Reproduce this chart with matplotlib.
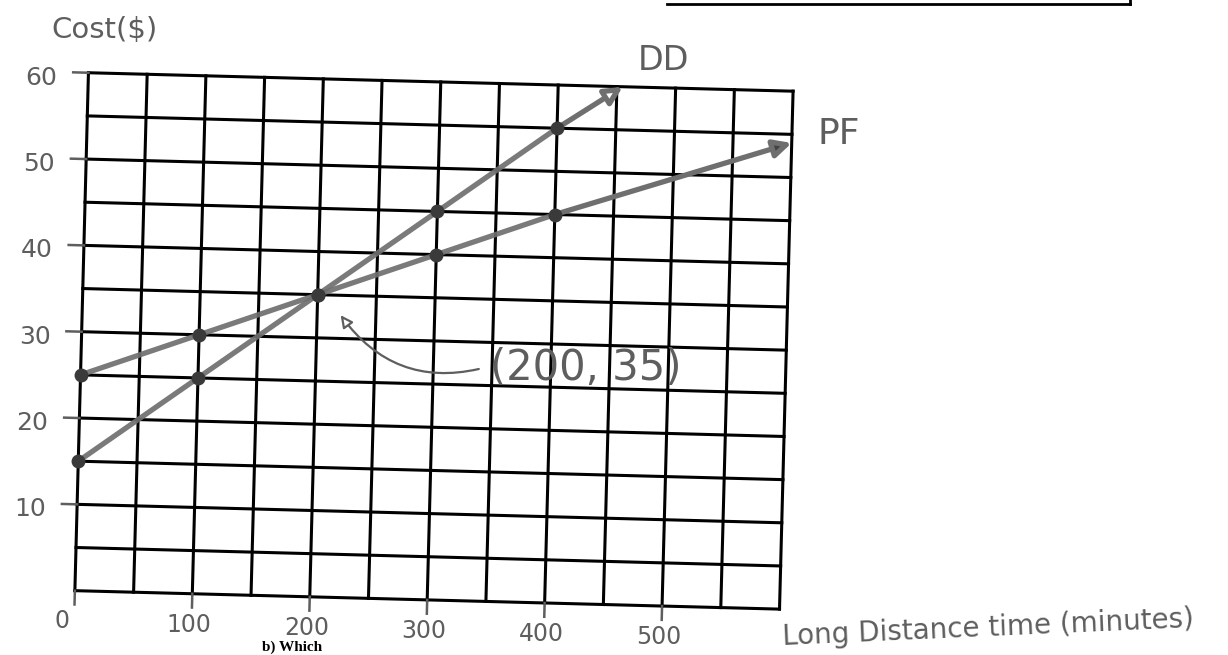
import matplotlib.pyplot as plt
from matplotlib.lines import Line2D
from matplotlib.transforms import Affine2D, offset_copy

# long distance minutes and monthly cost for the two plans
minutes = [0, 100, 200, 300, 400]
pf_cost = [25, 30, 35, 40, 45]
dd_cost = [15, 25, 35, 45, 55]
pf_end = (600, 54)
dd_end = (455, 60)
crossing = (200, 35)

grid_x = list(range(0, 601, 50))
grid_y = list(range(0, 61, 5))
x_ticks = [0, 100, 200, 300, 400, 500]
y_ticks = [10, 20, 30, 40, 50, 60]

pencil = '#6f6f6f'
ink = '#5e5e5e'

fig = plt.figure(figsize=(12.28, 6.55), dpi=100)
ax = fig.add_axes([0.0664, 0.084, 0.574, 0.791])
ax.set_xlim(0, 600)
ax.set_ylim(0, 60)
ax.axis('off')

# the sheet is a little skewed, so tilt everything drawn on the grid
cx, cy = ax.transData.transform((300, 30))
tr = ax.transData + Affine2D().rotate_deg_around(cx, cy, -1.5)

for gx in grid_x:
    ax.plot([gx, gx], [0, 60], color='black', lw=2.2, transform=tr,
            solid_capstyle='projecting', clip_on=False)
for gy in grid_y:
    ax.plot([0, 600], [gy, gy], color='black', lw=2.2, transform=tr,
            solid_capstyle='projecting', clip_on=False)

# tick dashes and handwritten tick labels
ylab_tr = offset_copy(tr, fig=fig, x=-47, y=-5, units='dots')
for v in y_ticks:
    ax.plot([-13, 0], [v, v], color=ink, lw=1.8, transform=tr, clip_on=False)
    ax.text(0, v, str(v), transform=ylab_tr, ha='center', va='center',
            fontsize=18, color=ink)

xlab_tr = offset_copy(tr, fig=fig, x=-3, y=-31, units='dots')
for v in x_ticks:
    ax.plot([v, v], [-1.6, 0], color=ink, lw=1.8, transform=tr, clip_on=False)
    ax.text(v - 8 if v == 0 else v, 0, str(v), transform=xlab_tr,
            ha='center', va='center', fontsize=17, color=ink)

# the two plans
ax.plot(minutes, pf_cost, color=pencil, lw=3.8, alpha=0.92, transform=tr,
        zorder=3, solid_capstyle='round')
ax.plot(minutes, dd_cost, color=pencil, lw=3.8, alpha=0.92, transform=tr,
        zorder=3, solid_capstyle='round')
ax.annotate('', xy=pf_end, xytext=(minutes[-1], pf_cost[-1]),
            xycoords=tr, textcoords=tr, zorder=3,
            arrowprops=dict(arrowstyle='-|>', mutation_scale=26, lw=3.8,
                            ec=pencil, fc='#444444', shrinkA=0, shrinkB=0))
ax.annotate('', xy=dd_end, xytext=(minutes[-1], dd_cost[-1]),
            xycoords=tr, textcoords=tr, zorder=3,
            arrowprops=dict(arrowstyle='-|>', mutation_scale=26, lw=3.8,
                            ec=pencil, fc='white', shrinkA=0, shrinkB=0))
ax.plot(minutes, pf_cost, 'o', ms=9, color='#3a3a3a', transform=tr,
        zorder=4, clip_on=False)
ax.plot(minutes, dd_cost, 'o', ms=9, color='#3a3a3a', transform=tr,
        zorder=4, clip_on=False)

ax.annotate('(%d, %d)' % crossing, xy=(crossing[0] + 20, crossing[1] - 2.3),
            xytext=(348, 27), xycoords=tr, textcoords=tr,
            fontsize=30, color=ink, ha='left', va='center', zorder=5,
            arrowprops=dict(arrowstyle='-|>', mutation_scale=18, lw=1.6,
                            ec=ink, fc='white', relpos=(0, 0.55),
                            connectionstyle='arc3,rad=-0.35',
                            shrinkA=6, shrinkB=0))

# line labels and axis titles
fig.text(0.042, 0.954, 'Cost($)', fontsize=21, color=ink, ha='left', va='center')
fig.text(0.540, 0.908, 'DD', fontsize=24, color=ink, ha='center', va='center')
fig.text(0.683, 0.795, 'PF', fontsize=26, color=ink, ha='center', va='center')
fig.text(0.805, 0.041, 'Long Distance time (minutes)', fontsize=20, color=ink,
         ha='center', va='center', rotation=2.5)

# edge of the question box above and the next question below
fig.add_artist(Line2D([667 / 1228, 1130 / 1228], [0.994, 0.994],
                      color='black', lw=2))
fig.add_artist(Line2D([1130 / 1228, 1130 / 1228], [0.994, 1.0],
                      color='black', lw=2))
fig.text(262 / 1228, 0.002, 'b) Which', fontsize=11, family='Liberation Serif',
         weight='bold', color='black', ha='left', va='bottom')

fig.savefig('out.png', dpi=100)
